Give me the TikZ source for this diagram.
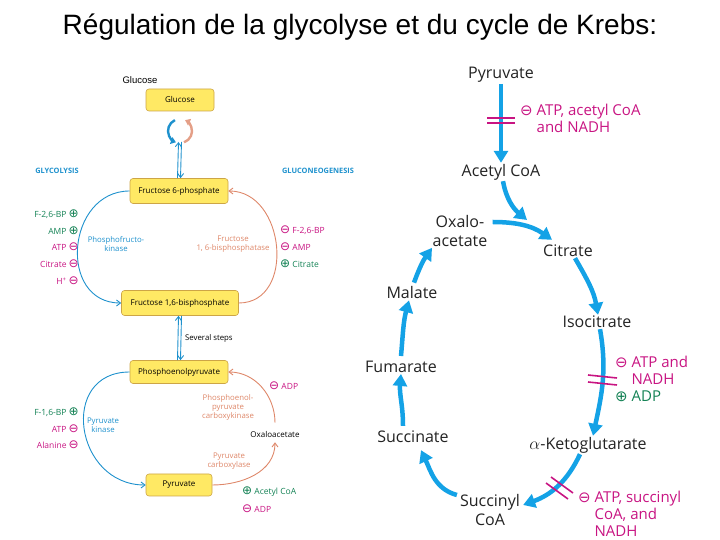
\documentclass[tikz,border=0pt]{standalone}
\usepackage{fontspec}
\setmainfont{Open Sans}
\newfontfamily\titlefont{Liberation Sans}
\newfontfamily\sym{DejaVu Sans}
\usetikzlibrary{arrows.meta}
\definecolor{boxyellow}{RGB}{255,233,100}
\definecolor{boxedge}{RGB}{205,165,70}
\definecolor{glyblue}{RGB}{30,145,205}
\definecolor{neoorange}{RGB}{222,135,105}
\definecolor{actgreen}{RGB}{20,130,85}
\definecolor{inhmagenta}{RGB}{200,20,130}
\definecolor{krebsblue}{RGB}{20,162,230}
\definecolor{labelgray}{RGB}{35,35,35}
\newcommand{\act}[1]{{\sym\fontsize{#1}{#1}\selectfont ⊕}}
\newcommand{\inh}[1]{{\sym\fontsize{#1}{#1}\selectfont ⊖}}
\begin{document}
\begin{tikzpicture}[
  x=1pt, y=1pt,
  every node/.style={inner sep=1pt},
  met/.style={rectangle, rounded corners=3pt, draw=boxedge, fill=boxyellow, line width=0.6pt,
    font=\fontsize{8}{9}\selectfont, minimum height=23pt},
  enz/.style={font=\fontsize{7.8}{9}\selectfont, align=center},
  reg/.style={font=\fontsize{8.5}{10}\selectfont},
  head/.style={font=\fontsize{7.4}{8}\selectfont\bfseries, text=glyblue},
  glyarc/.style={draw=glyblue, line width=0.9pt, -{Straight Barb[length=4pt,width=6pt]}},
  neoarc/.style={draw=neoorange, line width=0.9pt, -{Straight Barb[length=4pt,width=6pt]}},
  kmet/.style={font=\fontsize{16}{19}\selectfont, text=labelgray, align=center},
  kstep/.style={draw=krebsblue, line width=4.5pt, -{Triangle[length=12pt,width=14pt]}},
  kbar/.style={draw=inhmagenta, line width=1.6pt},
  kreg/.style={font=\fontsize{15}{17}\selectfont, align=left, anchor=west}
]
\useasboundingbox (0,0) rectangle (720,540);
\node[font=\titlefont\fontsize{28}{32}\selectfont] (title) at (360,513) {Régulation de la glycolyse et du cycle de Krebs:};

% glycolysis / gluconeogenesis
\node[font=\titlefont\fontsize{9.5}{11}\selectfont] (glulabel) at (140,460) {Glucose};
\node[met, minimum width=68pt, minimum height=22pt] (glu) at (180,440) {Glucose};
\node[met, minimum width=98pt, minimum height=25pt] (f6p) at (179,349) {Fructose 6-phosphate};
\node[met, minimum width=117pt, minimum height=25pt] (f16bp) at (180,237) {Fructose 1,6-bisphosphate};
\node[met, minimum width=98pt] (pep) at (179,168) {Phosphoenolpyruvate};
\node[met, minimum width=66pt, minimum height=22pt] (pyr) at (179,55) {Pyruvate};
\node (oaa) at (275,105) {\fontsize{8}{9}\selectfont Oxaloacetate};

\node[head] (glyco) at (57,369) {GLYCOLYSIS};
\node[head] (neo) at (318,369) {GLUCONEOGENESIS};

\node[enz, text=glyblue] (pfk) at (116,296) {Phosphofructo-\\kinase};
\node[enz, text=neoorange] (fbp) at (233,296) {Fructose\\1, 6-bisphosphatase};
\node[enz, text=glyblue] (pk) at (103,115) {Pyruvate\\kinase};
\node[enz, text=neoorange] (pepck) at (228,133) {Phosphoenol-\\pyruvate\\carboxykinase};
\node[enz, text=neoorange] (pc) at (229,79) {Pyruvate\\carboxylase};
\node[enz, anchor=west] (steps) at (184,202) {Several steps};

\node[reg, anchor=east, text=actgreen] (r1) at (80,326) {F-2,6-BP \act{12}};
\node[reg, anchor=east, text=actgreen] (r2) at (80,309) {AMP \act{12}};
\node[reg, anchor=east, text=inhmagenta] (r3) at (80,293) {ATP \inh{12}};
\node[reg, anchor=east, text=inhmagenta] (r4) at (80,276) {Citrate \inh{12}};
\node[reg, anchor=east, text=inhmagenta] (r5) at (80,259) {H\textsuperscript{+} \inh{12}};
\node[reg, anchor=west, text=inhmagenta] (r6) at (279,310) {\inh{12} F-2,6-BP};
\node[reg, anchor=west, text=inhmagenta] (r7) at (279,293) {\inh{12} AMP};
\node[reg, anchor=west, text=actgreen] (r8) at (279,276) {\act{12} Citrate};
\node[reg, anchor=east, text=actgreen] (r9) at (80,128) {F-1,6-BP \act{12}};
\node[reg, anchor=east, text=inhmagenta] (r10) at (80,111) {ATP \inh{12}};
\node[reg, anchor=east, text=inhmagenta] (r11) at (80,95) {Alanine \inh{12}};
\node[reg, anchor=west, text=inhmagenta] (r12) at (268,154) {\inh{12} ADP};
\node[reg, anchor=west, text=actgreen] (r13) at (241,48) {\act{12} Acetyl CoA};
\node[reg, anchor=west, text=inhmagenta] (r14) at (241,31) {\inh{12} ADP};

\coordinate (cyc) at (180,409);
\coordinate (cb) at (180,398);
\draw[glyblue, line width=2.4pt, -{Triangle[length=5pt,width=7pt]}] (cyc) ++(115:12) arc (115:250:12);
\draw[neoorange!80, line width=2.4pt, -{Triangle[length=5pt,width=7pt]}] (cyc) ++(-70:12) arc (-70:65:12);
\draw[glyarc] ([xshift=1.5pt]cb) -- ([xshift=1.5pt]f6p.north);
\draw[glyarc] ([xshift=-1.5pt]f6p.north) -- ([xshift=-1.5pt]cb);
\draw[glyarc] ([xshift=1.5pt]f16bp.south) -- ([xshift=1.5pt]pep.north);
\draw[glyarc] ([xshift=-1.5pt]pep.north) -- ([xshift=-1.5pt]f16bp.south);

\draw[glyarc] (f6p.west) to[out=180, in=180, looseness=1.45] (f16bp.west);
\draw[neoarc] (f16bp.east) to[out=0, in=0, looseness=1.3] (f6p.east);
\draw[glyarc] (pep.west) to[out=180, in=180, looseness=1.6] (pyr.west);
\draw[neoarc] (pyr.east) to[out=0, in=-90] ([yshift=-3pt]oaa.south);
\draw[neoarc] ([yshift=8pt]oaa.north) to[out=90, in=0] (pep.east);

% citric acid cycle
\node[kmet] (pyr2) at (501,465) {Pyruvate};
\node[kmet] (acoa) at (501,368) {Acetyl CoA};
\node[kmet] (oaa2) at (460,309) {Oxalo-\\acetate};
\node[kmet] (cit) at (568,289) {Citrate};
\node[kmet] (iso) at (597,218) {Isocitrate};
\node[kmet] (akg) at (588,95) {$\alpha$-Ketoglutarate};
\node[kmet] (sca) at (490,30) {Succinyl\\CoA};
\node[kmet] (succ) at (413,103) {Succinate};
\node[kmet] (fum) at (401,173) {Fumarate};
\node[kmet] (mal) at (412,247) {Malate};

\node[kreg, text=inhmagenta] (inh1) at (519,422) {\inh{15} ATP, acetyl CoA\\\phantom{\inh{15} }and NADH};
\node[kreg, text=inhmagenta] (inh2) at (614,170) {\inh{15} ATP and\\\phantom{\inh{15} }NADH};
\node[kreg, text=actgreen] (act2) at (614,144) {\act{15} ADP};
\node[kreg, text=inhmagenta] (inh3) at (577,26) {\inh{15} ATP, succinyl\\\phantom{\inh{15} }CoA, and\\\phantom{\inh{15} }NADH};

\coordinate (join) at (527,320);
\draw[kstep] (pyr2.south) -- (acoa.north);
\draw[kstep] ([xshift=2pt]acoa.south) to[out=-80, in=140] (join);
\draw[kstep] ([xshift=4pt, yshift=9pt]oaa2.east) to[out=0, in=145] ([xshift=10pt, yshift=4pt]cit.north west);
\draw[kstep] ([xshift=7pt]cit.south) to[out=-60, in=100] ([xshift=1pt]iso.north);
\draw[kstep] ([xshift=3pt]iso.south) to[out=-80, in=78] ([xshift=5pt]akg.north);
\draw[kstep] ([xshift=-8pt]akg.south) to[out=-115, in=20] ([xshift=2pt, yshift=5pt]sca.east);
\draw[kstep] ([xshift=-2pt, yshift=15pt]sca.west) to[out=165, in=-65] ([xshift=8pt, yshift=-6pt]succ.south);
\draw[kstep] ([xshift=-10pt, yshift=4pt]succ.north) to[out=90, in=-95] (fum.south);
\draw[kstep] ([yshift=4pt]fum.north) to[out=85, in=-105] ([xshift=-3pt]mal.south);
\draw[kstep] ([xshift=2pt, yshift=3pt]mal.north) to[out=70, in=-125] ([xshift=-28pt]oaa2.south);

\draw[kbar] (487,422) -- (515,422);
\draw[kbar] (487,417) -- (515,417);
\draw[kbar] (588,165) -- (617,162);
\draw[kbar] (588,158) -- (617,155);
\draw[kbar] (551,63) -- (573,47);
\draw[kbar] (546,57) -- (568,41);
\end{tikzpicture}
\end{document}
